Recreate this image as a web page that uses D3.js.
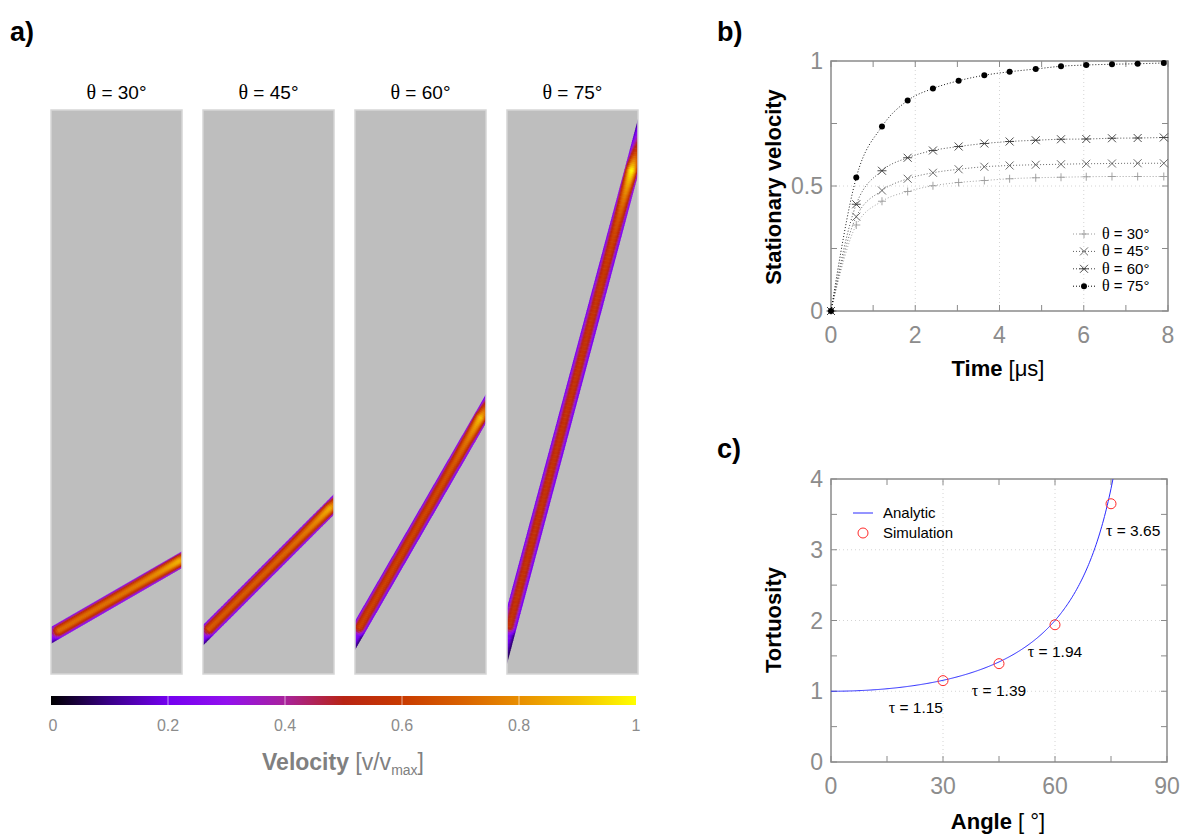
<!DOCTYPE html>
<html>
<head>
<meta charset="utf-8">
<script src="https://cdn.jsdelivr.net/npm/d3@7"></script>
<style>
  body { margin: 0; background: #fff; }
  svg { font-family: "Liberation Sans", Arial, sans-serif; }
  .frame { fill: none; stroke: #8a8a8a; stroke-width: 1.5; }
  .tick-label { fill: #8c8c8c; font-size: 23px; }
  .grid { stroke: #d4d4d4; stroke-width: 1; stroke-dasharray: 1,3; }
  .tick { stroke: #8a8a8a; stroke-width: 1; }
</style>
</head>
<body>
<script>
// ---- data ----
// panel a: channel angles and the velocity
var angles = [30, 45, 60, 75];
var corePeak = [0.72, 0.68, 0.62, 0.57];   // velocity in the middle of the channel
var exitPeak = [0.88, 0.87, 0.9, 1.0];     // velocity near the outlet

// colour map of the bar
var cmapStops = [0, 0.1, 0.2, 0.3, 0.4, 0.5, 0.6, 0.7, 0.8, 0.9, 1];
var cmapColors = ["#000000", "#3a0088", "#7400f0", "#9210ee", "#a8229c", "#b82414",
  "#c83a00", "#d86000", "#e88e00", "#f4c000", "#ffff00"];
var barTicks = [0, 0.2, 0.4, 0.6, 0.8, 1];

// panel b: stationary velocity against time
var times = [0, 0.60, 1.21, 1.82, 2.42, 3.03, 3.64, 4.24, 4.86, 5.46, 6.06, 6.67, 7.28, 7.90];
var vel30 = [0, 0.344, 0.439, 0.478, 0.501, 0.514, 0.522, 0.529, 0.533, 0.535, 0.537, 0.538, 0.538, 0.538];
var vel45 = [0, 0.377, 0.482, 0.529, 0.553, 0.567, 0.577, 0.582, 0.585, 0.587, 0.589, 0.590, 0.591, 0.591];
var vel60 = [0, 0.427, 0.561, 0.613, 0.642, 0.658, 0.670, 0.678, 0.683, 0.687, 0.688, 0.691, 0.692, 0.694];
var vel75 = [0, 0.534, 0.738, 0.842, 0.890, 0.921, 0.943, 0.957, 0.968, 0.979, 0.984, 0.987, 0.989, 0.992];
var seriesNames = ["30", "45", "60", "75"];

// panel c: tortuosity
var simAngles = [30, 45, 60, 75];
var simTau = [1.15, 1.39, 1.94, 3.65];
var tauLabels = ["1.15", "1.39", "1.94", "3.65"];

var width = 1185, height = 834;

var svg = d3.select("body").append("svg")
  .attr("width", width)
  .attr("height", height);

var defs = svg.append("defs");

// panel letters
[["a)", 10, 41], ["b)", 717, 41], ["c)", 717, 458]].forEach(function(l) {
  svg.append("text").attr("x", l[1]).attr("y", l[2])
    .style("font-size", "27px").style("font-weight", "bold").text(l[0]);
});

// ================= panel a =================
var color = d3.scaleLinear().domain(cmapStops).range(cmapColors).clamp(true);

var panelX = d3.scaleBand().domain(angles).range([51, 638]).paddingInner(0.138);
var panelTop = 110, panelBottom = 674, channelY = 635, channelW = 14;

angles.forEach(function(theta, i) {
  var x0 = panelX(theta), W = panelX.bandwidth(), H = panelBottom - panelTop;
  var rad = theta * Math.PI / 180;
  var c = Math.cos(rad), s = Math.sin(rad);

  // title
  var title = svg.append("text")
    .attr("x", x0 + W / 2).attr("y", 99)
    .attr("text-anchor", "middle")
    .style("font-size", "19px");
  title.append("tspan").style("font-family", "'Liberation Serif', serif").style("font-size", "20px").text("θ");
  title.append("tspan").text(" = " + theta + "°");

  defs.append("clipPath").attr("id", "clip" + i)
    .append("rect").attr("x", x0).attr("y", panelTop).attr("width", W).attr("height", H);

  svg.append("rect")
    .attr("x", x0).attr("y", panelTop).attr("width", W).attr("height", H)
    .attr("fill", "#bebebe");

  // cells of the channel in its own frame (s along, t across)
  var sEnd = (W - 0.5 * channelW * s) / c;
  var cells = [];
  var ds = 2;
  for (var ss = -channelW * s / c / 2 - 4; ss < W / c + channelW * Math.tan(rad) / 2 + 4; ss += ds) {
    for (var tt = -channelW / 2 + 0.5; tt < channelW / 2; tt += 1) {
      var xc = ss * c + tt * s;
      if (xc < -3 || xc > W + 3) continue;
      var prof = 1 - Math.pow(tt / (0.6 * channelW), 2);
      var entry = ss < 0 ? Math.max(0.3, 0.45 * (1 + ss / 70)) : Math.min(1, 0.45 + 0.55 * ss / 7);
      var peak;
      if (ss <= sEnd) peak = corePeak[i] + (exitPeak[i] - corePeak[i]) * Math.exp(-(sEnd - ss) / 34);
      else peak = exitPeak[i] * Math.exp(-(ss - sEnd) / 40);
      cells.push({ s: ss, t: tt, v: peak * prof * entry });
    }
  }

  svg.append("g")
    .attr("clip-path", "url(#clip" + i + ")")
    .append("g")
    .attr("transform", "translate(" + x0 + "," + channelY + ") rotate(" + (-theta) + ")")
    .selectAll("rect")
    .data(cells)
    .enter().append("rect")
    .attr("x", function(d) { return d.s; })
    .attr("y", function(d) { return d.t - 0.5; })
    .attr("width", ds + 0.6)
    .attr("height", 1.5)
    .attr("fill", function(d) { return color(d.v); });

  svg.append("rect")
    .attr("x", x0).attr("y", panelTop).attr("width", W).attr("height", H)
    .attr("fill", "none").attr("stroke", "#d6d6d6").attr("stroke-width", 1.5);
});

// colour bar
var barX = d3.scaleLinear().domain([0, 1]).range([51, 636]);
var grad = defs.append("linearGradient").attr("id", "cbar");
grad.selectAll("stop").data(cmapStops).enter().append("stop")
  .attr("offset", function(d) { return d * 100 + "%"; })
  .attr("stop-color", function(d, i) { return cmapColors[i]; });

svg.append("rect")
  .attr("x", barX(0)).attr("y", 696).attr("width", barX(1) - barX(0)).attr("height", 9)
  .attr("fill", "url(#cbar)");

svg.selectAll(".barline").data(barTicks.slice(1, -1)).enter().append("line")
  .attr("x1", barX).attr("x2", barX).attr("y1", 696).attr("y2", 705)
  .attr("stroke", "#ffffff").attr("stroke-opacity", 0.6).attr("stroke-width", 1);

svg.selectAll(".barlabel").data(barTicks).enter().append("text")
  .attr("x", function(d) { return barX(d) + (d === 0 ? 2 : 0); })
  .attr("y", 731)
  .attr("text-anchor", "middle")
  .attr("fill", "#8c8c8c")
  .style("font-size", "16px")
  .text(function(d) { return d; });

var barTitle = svg.append("text")
  .attr("x", 343).attr("y", 770)
  .attr("text-anchor", "middle")
  .attr("fill", "#808080")
  .style("font-size", "23px");
barTitle.append("tspan").style("font-weight", "bold").text("Velocity ");
barTitle.append("tspan").text("[v/v");
barTitle.append("tspan").style("font-size", "14px").attr("dy", 5).text("max");
barTitle.append("tspan").attr("dy", -5).text("]");

// ================= helpers for b and c =================
function drawFrame(x, y, majorX, minorX, majorY, minorY, fmtY) {
  var g = svg.append("g");
  var x0 = x.range()[0], x1 = x.range()[1], y0 = y.range()[0], y1 = y.range()[1];

  // dotted grid on inner major ticks
  g.selectAll(".gx").data(majorX.slice(1, -1)).enter().append("line")
    .attr("class", "grid").attr("x1", x).attr("x2", x).attr("y1", y0).attr("y2", y1);
  g.selectAll(".gy").data(majorY.slice(1, -1)).enter().append("line")
    .attr("class", "grid").attr("y1", y).attr("y2", y).attr("x1", x0).attr("x2", x1);

  // ticks pointing inward on all four sides
  var tx = majorX.concat(minorX), ty = majorY.concat(minorY);
  g.selectAll(".tb").data(tx).enter().append("line").attr("class", "tick")
    .attr("x1", x).attr("x2", x).attr("y1", y0).attr("y2", y0 - 6);
  g.selectAll(".tt").data(tx).enter().append("line").attr("class", "tick")
    .attr("x1", x).attr("x2", x).attr("y1", y1).attr("y2", y1 + 6);
  g.selectAll(".tl").data(ty).enter().append("line").attr("class", "tick")
    .attr("y1", y).attr("y2", y).attr("x1", x0).attr("x2", x0 + 6);
  g.selectAll(".tr").data(ty).enter().append("line").attr("class", "tick")
    .attr("y1", y).attr("y2", y).attr("x1", x1).attr("x2", x1 - 6);

  g.append("rect").attr("class", "frame")
    .attr("x", x0).attr("y", y1).attr("width", x1 - x0).attr("height", y0 - y1);

  g.selectAll(".lx").data(majorX).enter().append("text").attr("class", "tick-label")
    .attr("x", x).attr("y", y0 + 32).attr("text-anchor", "middle").text(function(d) { return d; });
  g.selectAll(".ly").data(majorY).enter().append("text").attr("class", "tick-label")
    .attr("x", x0 - 8).attr("y", function(d) { return y(d) + 8; })
    .attr("text-anchor", "end").text(fmtY);
}

// ================= panel b =================
var xb = d3.scaleLinear().domain([0, 8]).range([831, 1168]);
var yb = d3.scaleLinear().domain([0, 1]).range([311, 61]);

drawFrame(xb, yb, [0, 2, 4, 6, 8], [1, 3, 5, 7], [0, 0.5, 1], [0.25, 0.75], function(d) { return d; });

var velSeries = [vel30, vel45, vel60, vel75];
var seriesStroke = ["#9a9a9a", "#5a5a5a", "#3a3a3a", "#000000"];
var markerPath = {
  "30": "M-4,0H4M0,-4V4",
  "45": "M-4,-4L4,4M-4,4L4,-4",
  "60": "M-4,-4L4,4M-4,4L4,-4M-4.5,0H4.5",
  "75": null
};

var line = d3.line()
  .x(function(d) { return xb(d[0]); })
  .y(function(d) { return yb(d[1]); })
  .curve(d3.curveMonotoneX);

function drawMarker(g, name, stroke) {
  if (markerPath[name]) {
    g.append("path").attr("d", markerPath[name]).attr("fill", "none")
      .attr("stroke", stroke).attr("stroke-width", 0.9);
  } else {
    g.append("circle").attr("r", 3).attr("fill", stroke);
  }
}

velSeries.forEach(function(vals, k) {
  var pts = times.map(function(t, j) { return [t, vals[j]]; });
  svg.append("path")
    .attr("d", line(pts))
    .attr("fill", "none")
    .attr("stroke", seriesStroke[k])
    .attr("stroke-width", 0.9)
    .attr("stroke-dasharray", "1,2");
  svg.selectAll(".m" + k).data(pts).enter().append("g")
    .attr("transform", function(d) { return "translate(" + xb(d[0]) + "," + yb(d[1]) + ")"; })
    .each(function() { drawMarker(d3.select(this), seriesNames[k], seriesStroke[k]); });
});

// legend b
seriesNames.forEach(function(name, k) {
  var ly = 234 + k * 17.4;
  svg.append("line").attr("x1", 1073).attr("x2", 1095).attr("y1", ly).attr("y2", ly)
    .attr("stroke", seriesStroke[k]).attr("stroke-dasharray", "1,2");
  var g = svg.append("g").attr("transform", "translate(1084," + ly + ")");
  drawMarker(g, name, seriesStroke[k]);
  var t = svg.append("text").attr("x", 1102).attr("y", ly + 5).style("font-size", "15px");
  t.append("tspan").style("font-family", "'Liberation Serif', serif").style("font-size", "16px").text("θ");
  t.append("tspan").text(" = " + name + "°");
});

svg.append("text")
  .attr("transform", "translate(781,187) rotate(-90)")
  .attr("text-anchor", "middle")
  .style("font-size", "22px").style("font-weight", "bold")
  .text("Stationary velocity");

var tb = svg.append("text").attr("x", 998).attr("y", 376).attr("text-anchor", "middle").style("font-size", "22px");
tb.append("tspan").style("font-weight", "bold").text("Time ");
tb.append("tspan").text("[μs]");

// ================= panel c =================
var xc = d3.scaleLinear().domain([0, 90]).range([831, 1167]);
var yc = d3.scaleLinear().domain([0, 4]).range([762, 479]);

drawFrame(xc, yc, [0, 30, 60, 90], [15, 45, 75], [0, 1, 2, 3, 4], [0.5, 1.5, 2.5, 3.5], function(d) { return d; });

defs.append("clipPath").attr("id", "clipc")
  .append("rect").attr("x", 831).attr("y", 479).attr("width", 336).attr("height", 283);

// analytic tortuosity 1/cos(angle)
var analytic = d3.range(0, 80.01, 0.25).map(function(a) { return [a, 1 / Math.cos(a * Math.PI / 180)]; });
svg.append("path")
  .attr("clip-path", "url(#clipc)")
  .attr("d", d3.line().x(function(d) { return xc(d[0]); }).y(function(d) { return yc(d[1]); })(analytic))
  .attr("fill", "none").attr("stroke", "#2a2aff").attr("stroke-width", 1);

svg.selectAll(".sim").data(simAngles).enter().append("circle")
  .attr("cx", function(d) { return xc(d); })
  .attr("cy", function(d, i) { return yc(simTau[i]); })
  .attr("r", 5)
  .attr("fill", "none").attr("stroke", "#ff2a2a").attr("stroke-width", 1);

var labelAnchor = ["end", "middle", "middle", "start"];
var labelShift = [0, 0, 0, -5];
simAngles.forEach(function(a, i) {
  var t = svg.append("text")
    .attr("x", xc(a) + labelShift[i]).attr("y", yc(simTau[i]) + 32)
    .attr("text-anchor", labelAnchor[i])
    .style("font-size", "15.5px");
  t.append("tspan").style("font-family", "'Liberation Serif', serif").style("font-size", "16px").text("τ");
  t.append("tspan").text(" = " + tauLabels[i]);
});

// legend c
svg.append("line").attr("x1", 853).attr("x2", 873).attr("y1", 513).attr("y2", 513)
  .attr("stroke", "#2a2aff").attr("stroke-width", 1);
svg.append("text").attr("x", 883).attr("y", 518).style("font-size", "15px").text("Analytic");
svg.append("circle").attr("cx", 863).attr("cy", 533).attr("r", 5)
  .attr("fill", "none").attr("stroke", "#ff2a2a").attr("stroke-width", 1);
svg.append("text").attr("x", 883).attr("y", 538).style("font-size", "15px").text("Simulation");

svg.append("text")
  .attr("transform", "translate(781,620) rotate(-90)")
  .attr("text-anchor", "middle")
  .style("font-size", "22px").style("font-weight", "bold")
  .text("Tortuosity");

var tc = svg.append("text").attr("x", 998).attr("y", 829).attr("text-anchor", "middle").style("font-size", "22px");
tc.append("tspan").style("font-weight", "bold").text("Angle ");
tc.append("tspan").text("[ °]");
</script>
</body>
</html>
